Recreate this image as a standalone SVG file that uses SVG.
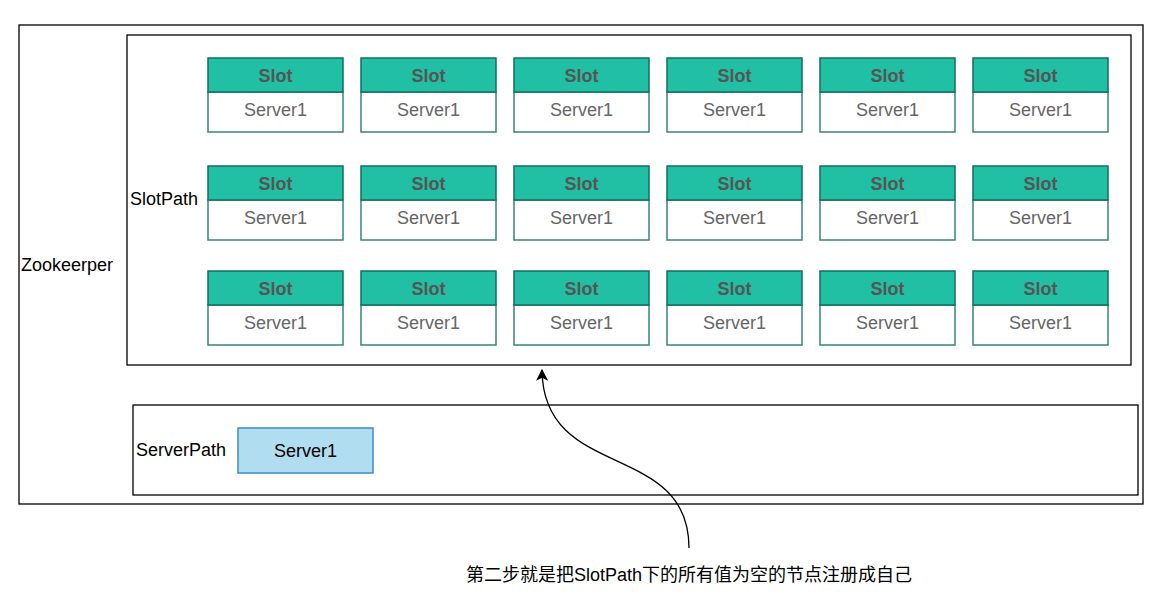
<svg xmlns="http://www.w3.org/2000/svg" width="1157" height="595" viewBox="0 0 1157 595">
<defs>
<style>
.frame{fill:#fff;stroke:#000;stroke-width:1.3}
.hd{fill:#21bfa3;stroke:#11705f;stroke-width:1.5}
.bd{fill:#fff;stroke:#11705f;stroke-width:1.5;stroke-opacity:0.85}
.t{font-family:"Liberation Sans",Arial,sans-serif;font-size:18px;text-anchor:middle;dominant-baseline:central}
.st{font-weight:bold;fill:#555}
.sv{fill:#666}
.lbl{font-family:"Liberation Sans",Arial,sans-serif;font-size:18px;fill:#000;dominant-baseline:central}
</style>
<marker id="arr" viewBox="0 0 10 10" refX="9" refY="5" markerWidth="12" markerHeight="12" markerUnits="userSpaceOnUse" orient="auto">
<path d="M0,0 L10,5 L0,10 L2.5,5 Z" fill="#000"/>
</marker>
<g id="slot">
<rect class="bd" x="0" y="34" width="135" height="40"/>
<rect class="hd" x="0" y="0" width="135" height="34"/>
<text class="t st" x="67.5" y="17.5">Slot</text>
<text class="t sv" x="67.5" y="52">Server1</text>
</g>
</defs>
<g id="zookeeper">
<rect class="frame" x="19" y="25" width="1124" height="479"/>
<text class="lbl" x="21" y="265">Zookeerper</text>
</g>
<g id="slotpath">
<rect class="frame" x="127" y="35" width="1004" height="330"/>
<text class="lbl" x="130" y="199">SlotPath</text>
</g>
<g id="slots">
<use href="#slot" x="208" y="58"/><use href="#slot" x="361" y="58"/><use href="#slot" x="514" y="58"/><use href="#slot" x="667" y="58"/><use href="#slot" x="820" y="58"/><use href="#slot" x="973" y="58"/>
<use href="#slot" x="208" y="166"/><use href="#slot" x="361" y="166"/><use href="#slot" x="514" y="166"/><use href="#slot" x="667" y="166"/><use href="#slot" x="820" y="166"/><use href="#slot" x="973" y="166"/>
<use href="#slot" x="208" y="271"/><use href="#slot" x="361" y="271"/><use href="#slot" x="514" y="271"/><use href="#slot" x="667" y="271"/><use href="#slot" x="820" y="271"/><use href="#slot" x="973" y="271"/>
</g>
<g id="serverpath">
<rect class="frame" x="133" y="405" width="1005" height="90"/>
<text class="lbl" x="136" y="450">ServerPath</text>
</g>
<g id="server1">
<rect x="238" y="428" width="135" height="45" fill="#b1ddf0" stroke="#3a8fbf" stroke-width="1.5"/>
<text class="t" x="305.5" y="450.5" fill="#000">Server1</text>
</g>
<g id="connectors">
<path d="M689,548 C689,440 543,482 542,370" fill="none" stroke="#000" stroke-width="1.3" marker-end="url(#arr)"/>
</g>
<g id="note">
<text x="466" y="575" font-family="'Liberation Sans','Noto Sans CJK SC',sans-serif" font-size="18" fill="#000" dominant-baseline="central">第二步就是把SlotPath下的所有值为空的节点注册成自己</text>
</g>
</svg>
